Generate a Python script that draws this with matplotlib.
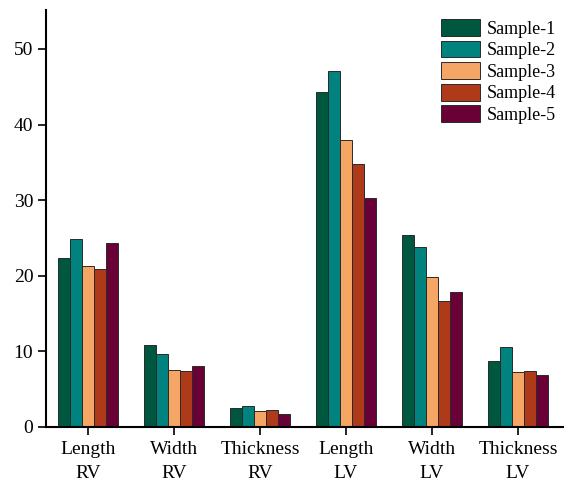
import numpy as np
import matplotlib
matplotlib.use("Agg")
import matplotlib.pyplot as plt

plt.rcParams['font.family'] = ['Liberation Serif', 'DejaVu Serif']

categories = ['Length\nRV', 'Width\nRV', 'Thickness\nRV', 'Length\nLV', 'Width\nLV', 'Thickness\nLV']
samples = ['Sample-1', 'Sample-2', 'Sample-3', 'Sample-4', 'Sample-5']

sample1 = [22.4, 10.8, 2.5, 44.3, 25.4, 8.7]
sample2 = [24.8, 9.6, 2.8, 47.1, 23.8, 10.6]
sample3 = [21.3, 7.5, 2.1, 37.9, 19.8, 7.3]
sample4 = [20.9, 7.4, 2.3, 34.8, 16.7, 7.4]
sample5 = [24.3, 8.0, 1.7, 30.3, 17.9, 6.8]

colors = ['#00573F', '#00827F', '#F6A664', '#AF3A19', '#6A0136']

fig = plt.figure(figsize=(5.65, 4.84), dpi=100)
ax = fig.add_axes([0.081, 0.118, 0.915, 0.862])

x = np.arange(len(categories))
w = 0.14
for i, (vals, lab) in enumerate(zip([sample1, sample2, sample3, sample4, sample5], samples)):
    ax.bar(x + (i - 2) * w, vals, w, color=colors[i], edgecolor='#2a2a2a',
           linewidth=0.7, label=lab)

ax.set_xlim(-0.49, 5.52)
ax.set_ylim(0, 55.2)
ax.set_yticks([0, 10, 20, 30, 40, 50])
ax.set_xticks(x)
ax.set_xticklabels(categories, fontsize=14, linespacing=1.55)
ax.tick_params(axis='y', labelsize=14, direction='out', length=6, width=1.2, pad=3)
ax.tick_params(axis='x', direction='out', length=6, width=1.2, pad=4)
ax.spines['top'].set_visible(False)
ax.spines['right'].set_visible(False)
ax.spines['left'].set_linewidth(1.5)
ax.spines['bottom'].set_linewidth(1.5)

ax.legend(loc='upper right', bbox_to_anchor=(1.0, 0.995), frameon=False, fontsize=13,
          handlelength=2.15, handleheight=1.05, labelspacing=0.17,
          handletextpad=0.35, borderaxespad=0.0)

fig.savefig('out.png', dpi=100)
